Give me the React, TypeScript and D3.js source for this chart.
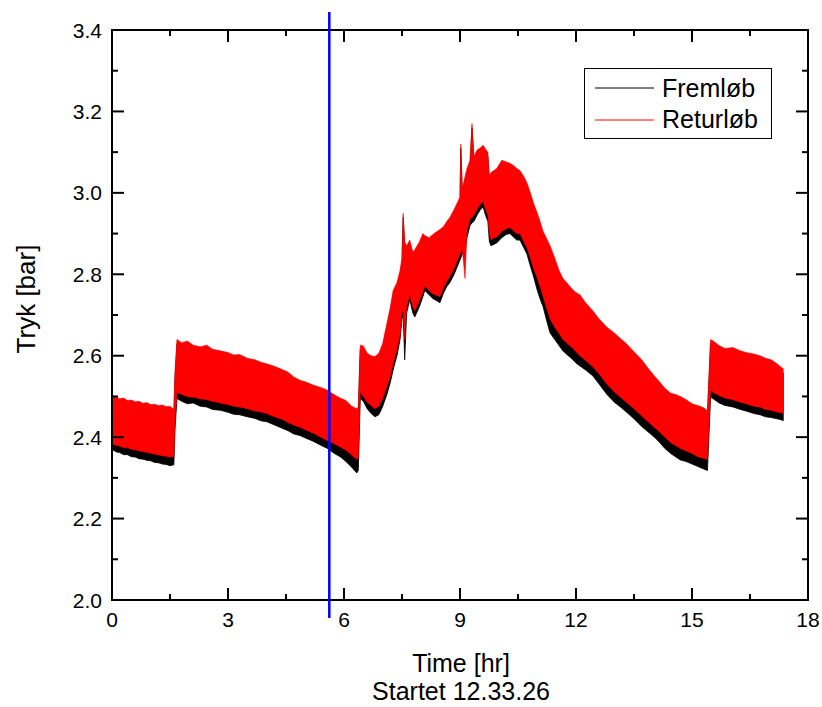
import React from "react";
import * as d3 from "d3";

// ---- data ----
const hours = [
  0.0, 0.1, 0.2, 0.3, 0.4, 0.5, 0.6, 0.7, 0.8, 0.9, 1.0, 1.1, 1.2, 1.3, 1.4, 1.5, 1.6, 1.63,
  1.68, 1.8, 1.95, 2.1, 2.28, 2.45, 2.6, 2.8, 3.0, 3.15, 3.3, 3.5, 3.7, 3.85, 4.0, 4.2, 4.4, 4.55,
  4.7, 4.86, 5.0, 5.2, 5.4, 5.56, 5.75, 5.9, 6.05, 6.2, 6.33, 6.37,
  6.42, 6.5, 6.6, 6.7, 6.8, 6.9, 7.0, 7.11, 7.2, 7.27, 7.37, 7.45, 7.5, 7.53, 7.57, 7.62, 7.7,
  7.78, 7.83, 7.95, 8.04, 8.09, 8.2, 8.3, 8.4, 8.48, 8.58, 8.66, 8.74, 8.85, 9.0, 9.02, 9.06,
  9.13, 9.18, 9.26, 9.31, 9.36, 9.44, 9.52, 9.6, 9.66, 9.72, 9.76, 9.8, 9.95, 10.08, 10.2, 10.29,
  10.4, 10.47, 10.55, 10.65, 10.73, 10.82, 10.9, 11.0, 11.07, 11.15, 11.23, 11.33, 11.45, 11.56,
  11.66, 11.8, 11.9, 12.0, 12.1, 12.25, 12.44, 12.6, 12.8, 13.0, 13.15, 13.3, 13.5, 13.7, 13.9,
  14.05, 14.17, 14.3, 14.45, 14.6, 14.7, 14.85, 15.0, 15.15, 15.3, 15.4,
  15.48, 15.55, 15.7, 15.85, 16.06, 16.25, 16.4, 16.6, 16.76, 16.9, 17.05, 17.2, 17.33, 17.36,
];

// Returløb (red) upper envelope
const returHigh = [
  2.502, 2.5, 2.494, 2.496, 2.49, 2.491, 2.487, 2.488, 2.483, 2.485, 2.48, 2.481, 2.478, 2.479, 2.475, 2.476, 2.468, 2.56,
  2.64, 2.632, 2.636, 2.626, 2.622, 2.626, 2.616, 2.612, 2.608, 2.602, 2.603, 2.594, 2.59, 2.584, 2.58, 2.574, 2.566, 2.56,
  2.548, 2.54, 2.536, 2.528, 2.522, 2.516, 2.504, 2.496, 2.49, 2.476, 2.47, 2.474,
  2.626, 2.624, 2.606, 2.6, 2.598, 2.606, 2.63, 2.68, 2.72, 2.76, 2.78, 2.81, 2.84, 2.95, 2.88, 2.87, 2.884,
  2.855, 2.86, 2.88, 2.9, 2.895, 2.89, 2.898, 2.905, 2.91, 2.918, 2.93, 2.94, 2.96, 2.99, 3.12, 3.01,
  3.04, 3.06, 3.08, 3.17, 3.09, 3.105, 3.11, 3.117, 3.108, 3.1, 3.04, 3.05, 3.06, 3.08, 3.076, 3.073,
  3.066, 3.06, 3.055, 3.04, 3.025, 3.0, 2.975, 2.95, 2.93, 2.905, 2.89, 2.87, 2.84, 2.81,
  2.79, 2.775, 2.764, 2.755, 2.75, 2.73, 2.71, 2.69, 2.67, 2.655, 2.642, 2.63, 2.61, 2.59, 2.565,
  2.548, 2.535, 2.52, 2.508, 2.504, 2.5, 2.492, 2.482, 2.478, 2.472, 2.465,
  2.64, 2.636, 2.625, 2.618, 2.62, 2.612, 2.608, 2.604, 2.6, 2.594, 2.59, 2.58, 2.57, 2.568,
];

// Returløb (red) lower envelope
const returLow = [
  2.384, 2.38, 2.378, 2.374, 2.374, 2.37, 2.369, 2.366, 2.365, 2.362, 2.361, 2.358, 2.357, 2.354, 2.353, 2.351, 2.352, 2.44,
  2.51, 2.505, 2.5, 2.498, 2.494, 2.492, 2.488, 2.484, 2.48, 2.476, 2.474, 2.47, 2.464, 2.462, 2.458, 2.45, 2.444, 2.436,
  2.43, 2.424, 2.418, 2.41, 2.4, 2.392, 2.384, 2.376, 2.368, 2.356, 2.345, 2.35,
  2.51, 2.5, 2.486, 2.478, 2.47, 2.476, 2.495, 2.525, 2.55, 2.58, 2.615, 2.65, 2.705, 2.712, 2.64, 2.72, 2.75,
  2.72, 2.71, 2.735, 2.755, 2.772, 2.76, 2.752, 2.748, 2.745, 2.768, 2.782, 2.795, 2.815, 2.85, 2.855, 2.86,
  2.79, 2.905, 2.935, 2.94, 2.945, 2.96, 2.972, 2.978, 2.96, 2.945, 2.9, 2.885, 2.892, 2.905, 2.912, 2.915,
  2.905, 2.9, 2.9, 2.88, 2.865, 2.84, 2.815, 2.79, 2.77, 2.745, 2.72, 2.69, 2.67, 2.655,
  2.64, 2.628, 2.62, 2.61, 2.6, 2.588, 2.572, 2.555, 2.53, 2.51, 2.498, 2.486, 2.47, 2.452, 2.435,
  2.422, 2.412, 2.4, 2.386, 2.378, 2.372, 2.366, 2.36, 2.352, 2.348, 2.345,
  2.515, 2.51, 2.502, 2.496, 2.492, 2.486, 2.482, 2.476, 2.474, 2.468, 2.466, 2.462, 2.46, 2.458,
];

// Fremløb (black) lower envelope
const fremLow = [
  2.37, 2.364, 2.362, 2.357, 2.357, 2.352, 2.351, 2.347, 2.346, 2.343, 2.342, 2.338, 2.337, 2.334, 2.333, 2.33, 2.332, 2.42,
  2.495, 2.488, 2.482, 2.484, 2.476, 2.474, 2.468, 2.466, 2.461, 2.456, 2.455, 2.45, 2.446, 2.44, 2.438, 2.43, 2.422, 2.416,
  2.408, 2.404, 2.398, 2.39, 2.38, 2.373, 2.36, 2.352, 2.34, 2.326, 2.312, 2.318,
  2.495, 2.488, 2.47, 2.458, 2.45, 2.455, 2.475, 2.505, 2.535, 2.565, 2.6, 2.64, 2.69, 2.7, 2.59, 2.705, 2.737,
  2.705, 2.695, 2.72, 2.745, 2.76, 2.75, 2.74, 2.735, 2.73, 2.755, 2.77, 2.78, 2.8, 2.835, 2.84, 2.85,
  2.862, 2.89, 2.92, 2.926, 2.93, 2.945, 2.958, 2.965, 2.945, 2.93, 2.88, 2.87, 2.877, 2.89, 2.898, 2.9,
  2.89, 2.884, 2.884, 2.865, 2.85, 2.82, 2.795, 2.76, 2.74, 2.72, 2.69, 2.656, 2.64, 2.625,
  2.612, 2.6, 2.592, 2.582, 2.575, 2.565, 2.55, 2.53, 2.505, 2.485, 2.474, 2.462, 2.445, 2.426, 2.41,
  2.398, 2.386, 2.372, 2.36, 2.35, 2.344, 2.34, 2.334, 2.328, 2.322, 2.318,
  2.498, 2.494, 2.484, 2.478, 2.474, 2.468, 2.464, 2.458, 2.455, 2.45, 2.448, 2.445, 2.442, 2.44,
];

const markerHour = 5.62;
const xTicks = [0, 3, 6, 9, 12, 15, 18];
const xMinorTicks = [1.5, 4.5, 7.5, 10.5, 13.5, 16.5];
const yTicks = [2.0, 2.2, 2.4, 2.6, 2.8, 3.0, 3.2, 3.4];
const yMinorTicks = [2.1, 2.3, 2.5, 2.7, 2.9, 3.1, 3.3];
const seriesNames = ["Fremløb", "Returløb"];
const seriesColors = ["#000000", "#ff0000"];
const xTitle = "Time [hr]";
const xSubTitle = "Startet 12.33.26";
const yTitle = "Tryk [bar]";

const W = 822;
const H = 707;
const L = 112, R = 808, T = 30, B = 600;
const FONT = "'Liberation Sans', Arial, Helvetica, sans-serif";

export default function App() {
  const x = d3.scaleLinear().domain([0, 18]).range([L, R]);
  const y = d3.scaleLinear().domain([2.0, 3.4]).range([B, T]);
  const idx = hours.map((_, i) => i);

  const frem = d3
    .area<number>()
    .x((i) => x(hours[i]))
    .y0((i) => y(fremLow[i]))
    .y1((i) => y(returHigh[i] - 0.01))(idx) as string;
  const retur = d3
    .area<number>()
    .x((i) => x(hours[i]))
    .y0((i) => y(returLow[i]))
    .y1((i) => y(returHigh[i]))(idx) as string;

  const major = 12;
  const minor = 6;

  return (
    <svg
      width={W}
      height={H}
      style={{ position: "absolute", left: 0, top: 0, background: "#fff" }}
      fontFamily={FONT}
    >
      <rect x={0} y={0} width={W} height={H} fill="#fff" />
      <path d={frem} fill={seriesColors[0]} stroke={seriesColors[0]} strokeWidth={0.8} />
      <path d={retur} fill={seriesColors[1]} stroke={seriesColors[1]} strokeWidth={0.6} />

      {/* frame */}
      <rect x={L} y={T} width={R - L} height={B - T} fill="none" stroke="#000" strokeWidth={2} />

      {/* x ticks (bottom & top, inward) */}
      {xTicks.map((t) => (
        <g key={"xt" + t}>
          <line x1={x(t)} x2={x(t)} y1={B} y2={B - major} stroke="#000" strokeWidth={2} />
          <line x1={x(t)} x2={x(t)} y1={T} y2={T + major} stroke="#000" strokeWidth={2} />
          <text x={x(t)} y={627} textAnchor="middle" fontSize={21}>
            {t}
          </text>
        </g>
      ))}
      {xMinorTicks.map((t) => (
        <g key={"xm" + t}>
          <line x1={x(t)} x2={x(t)} y1={B} y2={B - minor} stroke="#000" strokeWidth={2} />
          <line x1={x(t)} x2={x(t)} y1={T} y2={T + minor} stroke="#000" strokeWidth={2} />
        </g>
      ))}
      {/* y ticks (left & right, inward) */}
      {yTicks.map((v) => (
        <g key={"yt" + v}>
          <line x1={L} x2={L + major} y1={y(v)} y2={y(v)} stroke="#000" strokeWidth={2} />
          <line x1={R} x2={R - major} y1={y(v)} y2={y(v)} stroke="#000" strokeWidth={2} />
          <text x={102} y={y(v)} dy="0.36em" textAnchor="end" fontSize={21}>
            {v.toFixed(1)}
          </text>
        </g>
      ))}
      {yMinorTicks.map((v) => (
        <g key={"ym" + v}>
          <line x1={L} x2={L + minor} y1={y(v)} y2={y(v)} stroke="#000" strokeWidth={2} />
          <line x1={R} x2={R - minor} y1={y(v)} y2={y(v)} stroke="#000" strokeWidth={2} />
        </g>
      ))}

      {/* marker line */}
      <line x1={x(markerHour)} x2={x(markerHour)} y1={12} y2={618} stroke="#0000ff" strokeWidth={2.5} />

      {/* axis titles */}
      <text x={461} y={672} textAnchor="middle" fontSize={25}>
        {xTitle}
      </text>
      <text x={461} y={700} textAnchor="middle" fontSize={25}>
        {xSubTitle}
      </text>
      <text
        transform={`translate(35, 299) rotate(-90)`}
        textAnchor="middle"
        fontSize={26}
      >
        {yTitle}
      </text>

      {/* legend */}
      <rect x={584.5} y={68.5} width={187} height={70} fill="#fff" stroke="#000" strokeWidth={1} />
      {seriesNames.map((n, i) => (
        <g key={n}>
          <line x1={595} x2={654} y1={88 + i * 32} y2={88 + i * 32} stroke={seriesColors[i]} strokeWidth={1} />
          <text x={662} y={97 + i * 31} fontSize={25}>
            {n}
          </text>
        </g>
      ))}
    </svg>
  );
}
